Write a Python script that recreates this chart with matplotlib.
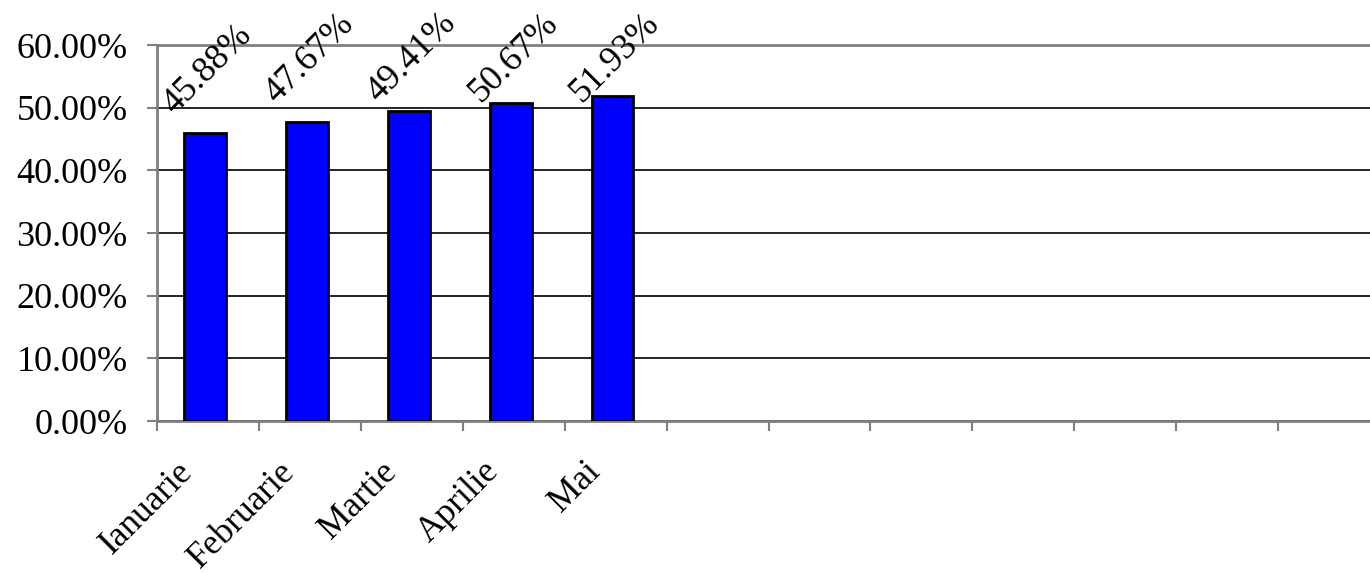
import matplotlib
matplotlib.use("Agg")
import matplotlib.pyplot as plt
import matplotlib.transforms as mtransforms
import numpy as np

categories = ["Ianuarie", "Februarie", "Martie", "Aprilie", "Mai"]
values = [45.88, 47.67, 49.41, 50.67, 51.93]
n_slots = 12
yticks = [0, 10, 20, 30, 40, 50, 60]

plt.rcParams['font.family'] = ['Liberation Serif', 'DejaVu Serif']

fig = plt.figure(figsize=(13.70, 5.73), dpi=100)
ax = fig.add_axes([157/1370, (573-421)/573, (1380-157)/1370, (421-45)/573])

x = np.arange(len(categories))
ax.bar(x - 0.03, values, width=0.41, color='#0000FF', edgecolor='black', linewidth=2.0, zorder=3)

ax.set_xlim(-0.5, n_slots - 0.5)
ax.set_ylim(0, 60)
ax.set_yticks(yticks)
ax.set_yticklabels([f"{v:.2f}%" for v in yticks], fontsize=26)
ax.yaxis.grid(True, color='black', linewidth=1.2, zorder=0)

# major x ticks at slot boundaries, labels at slot centres
ax.set_xticks(np.arange(n_slots + 1) - 0.5)
ax.set_xticklabels([])
ax.set_xticks(x, minor=True)
ax.set_xticklabels(categories, minor=True, fontsize=25.5, rotation=45,
                   ha='right', va='center', rotation_mode='anchor')
ax.tick_params(axis='x', which='major', direction='out', length=7, width=1.5, color='#808080')
ax.tick_params(axis='x', which='minor', length=0, pad=33)
ax.tick_params(axis='y', direction='out', length=7, width=1.5, color='#808080', pad=14)
offset = mtransforms.ScaledTranslation(-20/100, 0, fig.dpi_scale_trans)
for lbl in ax.get_xticklabels(minor=True):
    lbl.set_transform(lbl.get_transform() + offset)

for side in ['left', 'bottom', 'top']:
    ax.spines[side].set_color('#808080')
    ax.spines[side].set_linewidth(2.0)
ax.spines['right'].set_visible(False)

for xi, v in zip(x, values):
    ax.text(xi + 0.0, min(v + 10.2, 58.0), f"{v:.2f}%", fontsize=26, rotation=45,
            ha='center', va='center', rotation_mode='anchor', zorder=4, clip_on=False)

fig.savefig("out.png", dpi=100)
